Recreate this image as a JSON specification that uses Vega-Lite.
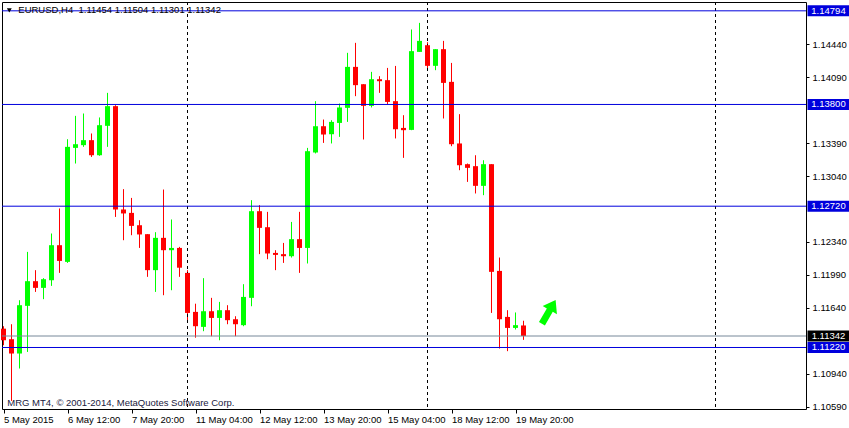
{
  "$schema": "https://vega.github.io/schema/vega-lite/v6.json",
  "width": 804,
  "height": 407,
  "autosize": {"type": "none"},
  "padding": {"left": 2, "top": 2, "right": 43, "bottom": 19},
  "background": "#ffffff",
  "config": {"view": {"stroke": "#000000", "strokeWidth": 1}, "font": "Liberation Sans", "axis": {"labelOverlap": false, "labelBound": false}, "axisY": {"labelOverlap": false}, "axisRight": {"labelOverlap": false}},
  "datasets": {
    "candles": [
      {"i":0,"open":1.11420,"high":1.11446,"low":1.11244,"close":1.11297},
      {"i":1,"open":1.11308,"high":1.11467,"low":1.10653,"close":1.11156},
      {"i":2,"open":1.11156,"high":1.11722,"low":1.10997,"close":1.11669},
      {"i":3,"open":1.11662,"high":1.12235,"low":1.11173,"close":1.11924},
      {"i":4,"open":1.11924,"high":1.12041,"low":1.11810,"close":1.11853},
      {"i":5,"open":1.11853,"high":1.11956,"low":1.11733,"close":1.11945},
      {"i":6,"open":1.11934,"high":1.12430,"low":1.11874,"close":1.12306},
      {"i":7,"open":1.12306,"high":1.12696,"low":1.12012,"close":1.12139},
      {"i":8,"open":1.12129,"high":1.13431,"low":1.12118,"close":1.13350},
      {"i":9,"open":1.13339,"high":1.13679,"low":1.13173,"close":1.13378},
      {"i":10,"open":1.13368,"high":1.13704,"low":1.13350,"close":1.13421},
      {"i":11,"open":1.13421,"high":1.13492,"low":1.13243,"close":1.13261},
      {"i":12,"open":1.13261,"high":1.13662,"low":1.13255,"close":1.13580},
      {"i":13,"open":1.13573,"high":1.13923,"low":1.13350,"close":1.13782},
      {"i":14,"open":1.13782,"high":1.13792,"low":1.12606,"close":1.12685},
      {"i":15,"open":1.12685,"high":1.12901,"low":1.12359,"close":1.12643},
      {"i":16,"open":1.12649,"high":1.12808,"low":1.12412,"close":1.12511},
      {"i":17,"open":1.12518,"high":1.12571,"low":1.12277,"close":1.12420},
      {"i":18,"open":1.12423,"high":1.12423,"low":1.11970,"close":1.12041},
      {"i":19,"open":1.12041,"high":1.12444,"low":1.11810,"close":1.12384},
      {"i":20,"open":1.12384,"high":1.12897,"low":1.11775,"close":1.12253},
      {"i":21,"open":1.12253,"high":1.12579,"low":1.11828,"close":1.12277},
      {"i":22,"open":1.12277,"high":1.12288,"low":1.11970,"close":1.12067},
      {"i":23,"open":1.12012,"high":1.12041,"low":1.11502,"close":1.11587},
      {"i":24,"open":1.11598,"high":1.11685,"low":1.11324,"close":1.11446},
      {"i":25,"open":1.11439,"high":1.11956,"low":1.11393,"close":1.11605},
      {"i":26,"open":1.11605,"high":1.11747,"low":1.11340,"close":1.11534},
      {"i":27,"open":1.11534,"high":1.11704,"low":1.11297,"close":1.11616},
      {"i":28,"open":1.11616,"high":1.11669,"low":1.11467,"close":1.11510},
      {"i":29,"open":1.11520,"high":1.11552,"low":1.11340,"close":1.11467},
      {"i":30,"open":1.11457,"high":1.11892,"low":1.11446,"close":1.11757},
      {"i":31,"open":1.11747,"high":1.12784,"low":1.11658,"close":1.12667},
      {"i":32,"open":1.12667,"high":1.12731,"low":1.12211,"close":1.12490},
      {"i":33,"open":1.12497,"high":1.12660,"low":1.12157,"close":1.12218},
      {"i":34,"open":1.12224,"high":1.12253,"low":1.12041,"close":1.12203},
      {"i":35,"open":1.12211,"high":1.12330,"low":1.12118,"close":1.12189},
      {"i":36,"open":1.12189,"high":1.12553,"low":1.12175,"close":1.12370},
      {"i":37,"open":1.12370,"high":1.12660,"low":1.12012,"close":1.12277},
      {"i":38,"open":1.12277,"high":1.13339,"low":1.12112,"close":1.13304},
      {"i":39,"open":1.13290,"high":1.13835,"low":1.13280,"close":1.13569},
      {"i":40,"open":1.13569,"high":1.13640,"low":1.13392,"close":1.13481},
      {"i":41,"open":1.13484,"high":1.13633,"low":1.13386,"close":1.13615},
      {"i":42,"open":1.13604,"high":1.13810,"low":1.13456,"close":1.13768},
      {"i":43,"open":1.13764,"high":1.14348,"low":1.13615,"close":1.14199},
      {"i":44,"open":1.14199,"high":1.14454,"low":1.13888,"close":1.14005},
      {"i":45,"open":1.14015,"high":1.14015,"low":1.13428,"close":1.13785},
      {"i":46,"open":1.13785,"high":1.14146,"low":1.13768,"close":1.14068},
      {"i":47,"open":1.14068,"high":1.14100,"low":1.13923,"close":1.14047},
      {"i":48,"open":1.14058,"high":1.14188,"low":1.13803,"close":1.13827},
      {"i":49,"open":1.13835,"high":1.14209,"low":1.13439,"close":1.13537},
      {"i":50,"open":1.13551,"high":1.13686,"low":1.13233,"close":1.13527},
      {"i":51,"open":1.13530,"high":1.14596,"low":1.13527,"close":1.14366},
      {"i":52,"open":1.14358,"high":1.14666,"low":1.14358,"close":1.14475},
      {"i":53,"open":1.14429,"high":1.14461,"low":1.14164,"close":1.14210},
      {"i":54,"open":1.14210,"high":1.14387,"low":1.14164,"close":1.14387},
      {"i":55,"open":1.14387,"high":1.14475,"low":1.13651,"close":1.14029},
      {"i":56,"open":1.14040,"high":1.14241,"low":1.13357,"close":1.13378},
      {"i":57,"open":1.13386,"high":1.13697,"low":1.13102,"close":1.13155},
      {"i":58,"open":1.13166,"high":1.13173,"low":1.12978,"close":1.13127},
      {"i":59,"open":1.13145,"high":1.13261,"low":1.12855,"close":1.12936},
      {"i":60,"open":1.12936,"high":1.13208,"low":1.12837,"close":1.13166},
      {"i":61,"open":1.13166,"high":1.13166,"low":1.11587,"close":1.12023},
      {"i":62,"open":1.12033,"high":1.12175,"low":1.11209,"close":1.11520},
      {"i":63,"open":1.11545,"high":1.11616,"low":1.11181,"close":1.11428},
      {"i":64,"open":1.11428,"high":1.11592,"low":1.11411,"close":1.11457},
      {"i":65,"open":1.11454,"high":1.11504,"low":1.11301,"close":1.11342}
    ],
    "levels": [
      {"price":1.14794,"kind":"level"},
      {"price":1.13800,"kind":"level"},
      {"price":1.12720,"kind":"level"},
      {"price":1.11220,"kind":"level"},
      {"price":1.11342,"kind":"bid"}
    ],
    "seps": [{"i":23},{"i":53},{"i":89}]
  },
  "layer": [
    {
      "data": {"name": "candles"},
      "mark": {"type": "rule", "strokeWidth": 1},
      "encoding": {
        "x": {"field": "i", "type": "quantitative", "title": null, "scale": {"domain": [-0.1875, 100.3125], "nice": false, "zero": false, "padding": 0},
          "axis": {"values": [0, 8, 16, 24, 32, 40, 48, 56, 64],
            "labelExpr": "['5 May 2015','6 May 12:00','7 May 20:00','11 May 04:00','12 May 12:00','13 May 20:00','15 May 04:00','18 May 12:00','19 May 20:00'][round(datum.value/8)]",
            "title": null, "domain": false, "grid": false, "tickSize": 4, "tickColor": "#000000",
            "labelAlign": "left", "labelBaseline": "top", "labelPadding": 1, "labelFontSize": 9.5, "labelColor": "#000000",
            "labelFont": "Liberation Sans", "labelOverlap": false, "labelBound": false, "labelFlush": false, "zindex": 1}},
        "y": {"field": "low", "type": "quantitative", "title": null, "scale": {"domain": [1.105671, 1.148877], "nice": false, "zero": false},
          "axis": {"orient": "right", "values": [1.1059, 1.1094, 1.1164, 1.1199, 1.1234, 1.1304, 1.1339, 1.1409, 1.1444],
            "format": ".5f", "title": null, "domain": false, "grid": false, "tickSize": 3, "tickColor": "#000000",
            "labelPadding": 3, "labelFontSize": 9.5, "labelColor": "#000000", "labelFont": "Liberation Sans",
            "labelOverlap": false, "labelBound": false, "labelFlush": false, "labelBaseline": "middle", "zindex": 0}},
        "y2": {"field": "high"},
        "color": {"condition": {"test": "datum.close >= datum.open", "value": "#00ff00"}, "value": "#ff0000"}
      }
    },
    {
      "data": {"name": "seps"},
      "mark": {"type": "rule", "strokeDash": [3, 3], "color": "#000000", "strokeWidth": 1},
      "encoding": {
        "x": {"field": "i", "type": "quantitative", "title": null}
      }
    },
    {
      "data": {"name": "candles"},
      "mark": {"type": "bar", "size": 5},
      "encoding": {
        "x": {"field": "i", "type": "quantitative", "title": null},
        "y": {"field": "open", "type": "quantitative", "title": null},
        "y2": {"field": "close"},
        "color": {"condition": {"test": "datum.close >= datum.open", "value": "#00ff00"}, "value": "#ff0000"}
      }
    },
    {
      "data": {"name": "levels"},
      "mark": {"type": "rule", "strokeWidth": 1},
      "encoding": {
        "y": {"field": "price", "type": "quantitative", "title": null},
        "color": {"condition": {"test": "datum.kind === 'bid'", "value": "#778899"}, "value": "#0000dd"}
      }
    },
    {
      "data": {"name": "levels"},
      "mark": {"type": "point", "shape": "M-1,-0.26L1,-0.26L1,0.26L-1,0.26Z", "filled": true, "size": 1764, "opacity": 1, "strokeWidth": 0},
      "encoding": {
        "x": {"datum": 103.125, "type": "quantitative", "title": null},
        "y": {"field": "price", "type": "quantitative", "title": null},
        "color": {"condition": {"test": "datum.kind === 'bid'", "value": "#000000"}, "value": "#0000dd"}
      }
    },
    {
      "data": {"name": "levels"},
      "mark": {"type": "text", "align": "center", "baseline": "middle", "fontSize": 9.5, "font": "Liberation Sans", "color": "#ffffff"},
      "encoding": {
        "x": {"datum": 103.125, "type": "quantitative", "title": null},
        "y": {"field": "price", "type": "quantitative", "title": null},
        "text": {"field": "price", "type": "quantitative", "format": ".5f"}
      }
    },
    {
      "data": {"values": [{"i": 68.16, "price": 1.11598}]},
      "mark": {"type": "point", "shape": "M0,-1L0.6,-0.15L0.25,-0.15L0.25,1L-0.25,1L-0.25,-0.15L-0.6,-0.15Z", "filled": true, "size": 750, "angle": 30, "color": "#00ff00", "opacity": 1, "strokeWidth": 0},
      "encoding": {
        "x": {"field": "i", "type": "quantitative", "title": null},
        "y": {"field": "price", "type": "quantitative", "title": null}
      }
    },
    {
      "data": {"values": [{}]},
      "mark": {"type": "text", "text": "EURUSD,H4\u00a0 1.11454 1.11504 1.11301 1.11342", "align": "left", "baseline": "middle", "fontSize": 9.5, "font": "Liberation Sans", "color": "#000000"},
      "encoding": {
        "x": {"datum": 1.85, "type": "quantitative", "title": null},
        "y": {"datum": 1.14800, "type": "quantitative", "title": null}
      }
    },
    {
      "data": {"values": [{}]},
      "mark": {"type": "point", "shape": "triangle-down", "filled": true, "size": 24, "color": "#000000", "opacity": 1},
      "encoding": {
        "x": {"datum": 0.725, "type": "quantitative", "title": null},
        "y": {"datum": 1.14800, "type": "quantitative", "title": null}
      }
    },
    {
      "data": {"values": [{}]},
      "mark": {"type": "text", "text": "MRG MT4, © 2001-2014, MetaQuotes Software Corp.", "align": "left", "baseline": "alphabetic", "fontSize": 9.5, "font": "Liberation Sans", "color": "#202040"},
      "encoding": {
        "x": {"datum": 0.475, "type": "quantitative", "title": null},
        "y": {"datum": 1.10594, "type": "quantitative", "title": null}
      }
    }
  ]
}
